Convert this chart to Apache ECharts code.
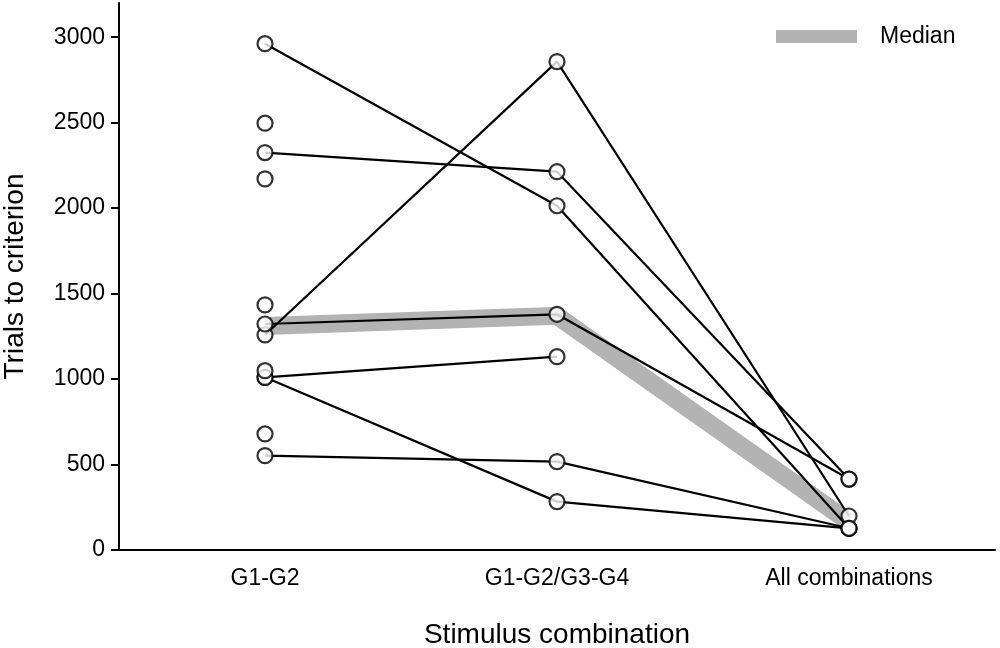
<!DOCTYPE html>
<html>
<head>
<meta charset="utf-8">
<script src="https://cdn.jsdelivr.net/npm/echarts@6/dist/echarts.min.js"></script>
<style>
  html, body { margin: 0; padding: 0; background: #fff; }
  #chart { width: 1000px; height: 648px; }
</style>
</head>
<body>
<div id="chart"></div>
<script>
const stages = ['G1-G2', 'G1-G2/G3-G4', 'All combinations'];
const yTicks = [0, 500, 1000, 1500, 2000, 2500, 3000];

// one entry per animal, null = stage not reached
const trialsG1G2 = [2962, 2325, 1258, 1322, 1010, 1010, 552, 2497, 2171, 1434, 1049, 679];
const trialsG1G2G3G4 = [2014, 2213, 2857, 1379, 1131, 283, 517, null, null, null, null, null];
const trialsAll = [127, 415, 199, 415, null, 127, 127, null, null, null, null, null];

const medianTrials = [1310, 1370, 165];

const chart = echarts.init(document.getElementById('chart'));
const font = 'Liberation Sans, Arial, sans-serif';

const subjectSeries = trialsG1G2.map((v, i) => ({
  type: 'line',
  name: 'animal' + (i + 1),
  data: [v, trialsG1G2G3G4[i], trialsAll[i]],
  showSymbol: false,
  symbol: 'none',
  connectNulls: false,
  lineStyle: { color: '#000', width: 2.2 },
  z: 3,
  silent: true
}));

const points = [];
[trialsG1G2, trialsG1G2G3G4, trialsAll].forEach((arr, s) => {
  arr.forEach(v => { if (v != null) points.push([s, v]); });
});

chart.setOption({
  animation: false,
  grid: { left: 119, right: 5, top: 3, bottom: 98, outerBoundsMode: 'none', containLabel: false },
  legend: {
    data: ['Median'],
    left: 776,
    top: 25,
    padding: 0,
    icon: 'rect',
    itemWidth: 81,
    itemHeight: 13,
    itemStyle: { color: '#b3b3b3' },
    textStyle: { fontFamily: font, fontSize: 23, color: '#000', padding: [0, 0, 0, 18] }
  },
  xAxis: {
    type: 'category',
    data: stages,
    boundaryGap: true,
    name: 'Stimulus combination',
    nameLocation: 'middle',
    nameGap: 71,
    nameTextStyle: { fontFamily: font, fontSize: 28, color: '#000' },
    axisLine: { lineStyle: { color: '#000', width: 2 } },
    axisTick: { alignWithLabel: true, inside: true, length: 9, lineStyle: { color: '#000', width: 2 } },
    axisLabel: { fontFamily: font, fontSize: 23, color: '#000', margin: 17 },
    splitLine: { show: false }
  },
  yAxis: {
    type: 'value',
    min: 0,
    max: 3200,
    interval: 500,
    name: 'Trials to criterion',
    nameLocation: 'middle',
    nameGap: 90,
    nameTextStyle: { fontFamily: font, fontSize: 28, color: '#000' },
    axisLine: { show: true, lineStyle: { color: '#000', width: 2 } },
    axisTick: { show: true, length: 8, customValues: yTicks, lineStyle: { color: '#000', width: 2 } },
    axisLabel: {
      fontFamily: font, fontSize: 23, color: '#000', margin: 14,
      customValues: yTicks,
      formatter: v => String(v)
    },
    splitLine: { show: false }
  },
  series: [
    {
      type: 'line',
      name: 'Median',
      data: medianTrials,
      symbol: 'none',
      showSymbol: false,
      itemStyle: { color: '#b3b3b3' },
      lineStyle: { color: '#b3b3b3', width: 18, cap: 'butt', join: 'miter' },
      z: 2,
      silent: true
    },
    ...subjectSeries,
    {
      type: 'scatter',
      name: 'points',
      data: points,
      symbol: 'circle',
      symbolSize: 15,
      itemStyle: { color: '#fff', borderColor: '#000', borderWidth: 2.2 },
      z: 4,
      silent: true
    }
  ]
});
</script>
</body>
</html>
